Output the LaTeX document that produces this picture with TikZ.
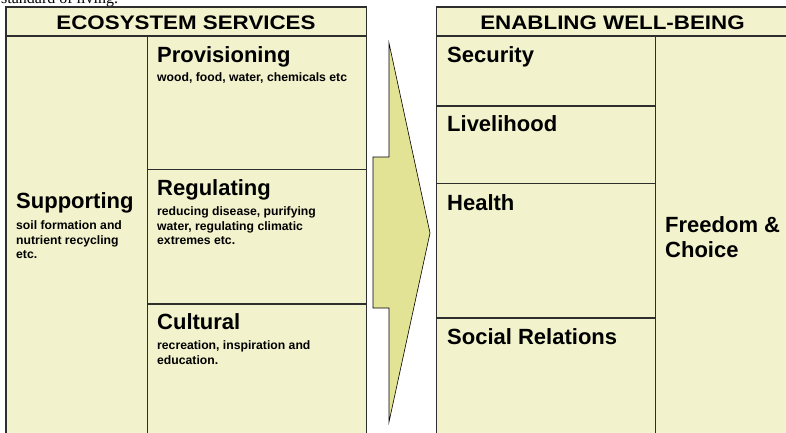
\documentclass[tikz,border=0pt]{standalone}
\usepackage{fontspec}
\setmainfont{Liberation Sans}
\newfontfamily\capfont{Liberation Serif}
\newfontfamily\headfont[FakeStretch=1.14]{Liberation Sans}
\usepackage{xcolor}
\definecolor{cellfill}{HTML}{F2F2CC}
\definecolor{arrowfill}{HTML}{E3E395}
\definecolor{rulecol}{HTML}{2E2E2E}

\tikzset{
  cell/.style={draw=rulecol,fill=cellfill,line width=1.3pt},
  head/.style={anchor=base,inner sep=0pt,font=\headfont\fontsize{19.6}{22}\selectfont\bfseries},
  title/.style={anchor=base west,inner sep=0pt,font=\fontsize{22}{26}\selectfont\bfseries},
  sub/.style={anchor=north west,inner sep=0pt,align=left,font=\fontsize{12.2}{14.5}\selectfont\bfseries},
}

\begin{document}
\begin{tikzpicture}[x=1pt,y=-1pt]
\clip (0,0) rectangle (786,432);
\fill[white] (0,0) rectangle (786,432);

%cropped caption
\node[anchor=base west,inner sep=0pt,font=\capfont\fontsize{16}{18}\selectfont] (caption) at (1,3) {standard of living.};

%ecosystem services
\draw[cell] (6,7) rectangle (366.5,36);
\draw[cell] (6,36) rectangle (147.5,440);
\draw[cell] (147.5,36) rectangle (366.5,169.5);
\draw[cell] (147.5,169.5) rectangle (366.5,304);
\draw[cell] (147.5,304) rectangle (366.5,440);
\node[head] (eshead) at (186,29) {ECOSYSTEM SERVICES};
\node[title] (supp) at (16,208) {Supporting};
\node[sub] (supptxt) at (16,220.5) {soil formation and\\nutrient recycling\\etc.};
\node[title] (prov) at (157,62.5) {Provisioning};
\node[sub] (provtxt) at (157,72.7) {wood, food, water, chemicals etc};
\node[title] (regu) at (157,195.5) {Regulating};
\node[sub] (regutxt) at (157,206.5) {reducing disease, purifying\\water, regulating climatic\\extremes etc.};
\node[title] (cult) at (157,329.5) {Cultural};
\node[sub] (culttxt) at (157,340.5) {recreation, inspiration and\\education.};

%arrow
\draw[fill=arrowfill,line width=0.6pt] (389,43)--(430,233)--(389,422)--(389,308)--(373,308)--(373,157)--(389,157)--cycle;

%enabling well-being
\draw[cell] (436.5,7) rectangle (800,36);
\draw[cell] (436.5,36) rectangle (655.5,106);
\draw[cell] (436.5,106) rectangle (655.5,183.5);
\draw[cell] (436.5,183.5) rectangle (655.5,318);
\draw[cell] (436.5,318) rectangle (655.5,440);
\draw[cell] (655.5,36) rectangle (800,440);
\node[head] (wbhead) at (612.5,29) {ENABLING WELL-BEING};
\node[title] (secu) at (447,62) {Security};
\node[title] (live) at (447,131.5) {Livelihood};
\node[title] (heal) at (447,210) {Health};
\node[title] (soci) at (447,344) {Social Relations};
\node[title,anchor=north west,align=left,font=\fontsize{22}{25.7}\selectfont\bfseries] (free) at (665,216) {Freedom \&\\Choice};
\end{tikzpicture}
\end{document}
